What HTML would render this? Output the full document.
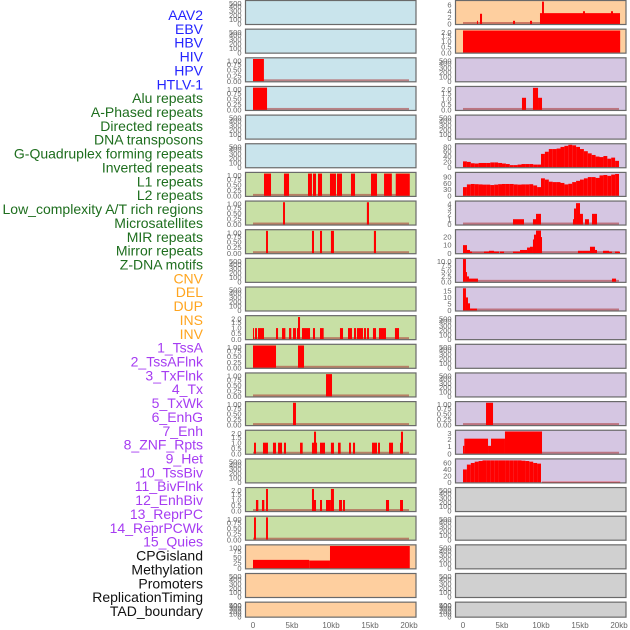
<!DOCTYPE html>
<html><head><meta charset="utf-8"><style>
html,body{margin:0;padding:0;background:#fff;}
svg{display:block;font-family:"Liberation Sans",sans-serif;}
</style></head><body>
<svg id="chart" width="630" height="630" viewBox="0 0 630 630" xmlns="http://www.w3.org/2000/svg"></svg>
<script>
// ---- labels ----
const trackNames = ["AAV2","EBV","HBV","HIV","HPV","HTLV-1","Alu repeats","A-Phased repeats","Directed repeats","DNA transposons","G-Quadruplex forming repeats","Inverted repeats","L1 repeats","L2 repeats","Low_complexity A/T rich regions","Microsatellites","MIR repeats","Mirror repeats","Z-DNA motifs","CNV","DEL","DUP","INS","INV","1_TssA","2_TssAFlnk","3_TxFlnk","4_Tx","5_TxWk","6_EnhG","7_Enh","8_ZNF_Rpts","9_Het","10_TssBiv","11_BivFlnk","12_EnhBiv","13_ReprPC","14_ReprPCWk","15_Quies","CPGisland","Methylation","Promoters","ReplicationTiming","TAD_boundary"];
const trackGroups = ["v","v","v","v","v","v","r","r","r","r","r","r","r","r","r","r","r","r","r","s","s","s","s","s","c","c","c","c","c","c","c","c","c","c","c","c","c","c","c","k","k","k","k","k"];
const xTickValues = [0,5,10,15,20];
const xTickLabels = ["0","5kb","10kb","15kb","20kb"];

// ---- tick label sets ----
const ticksEmpty = [0,100,200,300,400,500];
const ticksUnit = [0,0.25,0.5,0.75,1];
const ticksUnitLabels = ["0.00","0.25","0.50","0.75","1.00"];
const ticksTwo = [0,0.5,1,1.5,2];
const ticksTwoLabels = ["0.0","0.5","1.0","1.5","2.0"];
const ticksCpg = [0,25,50,75,100];
const ticksIns = [0,2,4,6];
const ticks80 = [0,20,40,60,80];
const ticks90 = [0,30,60,90];
const ticks4 = [0,1,2,3,4];
const ticks20 = [0,10,20];
const ticks10 = [0,2.5,5,7.5,10];
const ticks10Labels = ["0.0","2.5","5.0","7.5","10.0"];
const ticks15 = [0,5,10,15];
const ticks3 = [0,1,2,3];
const ticks60 = [0,20,40,60];

// ---- series: [startKb, endKb, value] ----
const barsHIV = [[0,1.4,1]];
const barsHPV = [[0,1.8,1]];
const barsAlu = [[1.41,2.31,1],[3.97,4.62,1],[7.05,7.56,1],[7.69,8.08,1],[8.33,8.85,1],[9.87,10.64,1],[10.77,11.41,1],[12.56,13.08,1],[15.13,15.9,1],[16.8,17.8,1],[18.3,20.1,1]];
const barsAPhased = [[3.85,4.1,1],[14.6,14.87,1]];
const barsDirected = [[1.67,1.92,1],[7.56,7.82,1],[8.59,8.85,1],[9.99,10.38,1],[15.5,15.77,1]];
const barsGQuad = [[0,0.13,1],[0.26,0.51,1],[0.64,1.41,1],[2.95,3.21,1],[3.72,4.15,1],[4.62,4.91,1],[5.13,5.51,1],[5.64,5.77,1],[5.77,6.03,2],[6.28,7.31,1],[7.69,7.95,1],[8.59,9.06,1],[11.15,11.54,1],[12.18,12.69,1],[12.95,13.21,1],[13.33,14.1,1],[14.23,14.49,1],[14.62,14.87,1],[15.38,15.77,1],[16.15,17.05,1],[18.2,18.72,1]];
const barsInverted = [[0,2.95,1],[5.77,6.54,1]];
const barsL1 = [[9.36,10.13,1]];
const barsL2 = [[5.13,5.51,1]];
const barsLowComplex = [[0.13,0.38,1],[1.28,1.92,1],[2.56,2.95,1],[3.21,3.72,1],[3.97,4.23,1],[6.03,6.37,1],[7.56,7.82,1],[7.82,8.08,2],[8.08,8.21,1],[8.59,9.23,1],[9.99,10.38,1],[10.9,11.24,1],[12.31,12.56,1],[12.82,13.08,1],[15.26,15.9,1],[16.03,16.28,1],[17.44,17.95,1],[18.85,18.97,1],[18.97,19.23,2]];
const barsMir = [[0.38,0.68,1],[1.15,1.45,1],[1.67,1.92,2],[7.56,7.82,2],[7.82,8.08,1],[8.59,8.85,1],[9.36,9.99,1],[9.99,10.38,2],[11.03,11.41,1],[11.54,11.79,1],[17.05,17.44,1],[18.85,19.23,1]];
const barsMirror = [[0.13,0.38,1],[1.67,1.92,1]];
const barsCnv = [[0,7.2,38],[7.2,9.87,35],[9.87,20.1,100]];
const barsIns = [[1.79,1.92,1],[2.18,2.44,3.2],[6.41,6.67,1],[8.59,8.85,1],[9.87,20.13,3.4],[10.13,10.38,7],[15.38,15.64,4],[18.97,19.23,4]];
const barsInv = [[0,20.15,2]];
const barsTssAFlnk = [[7.56,8.08,1.1],[8.97,9.62,2],[9.62,10.13,1.1]];
const areaTx = [22,20,15,14,16,16,16,18,18,16,14,12,8,8,10,12,12,12,10,10,50,58,68,68,70,76,80,84,82,76,68,60,52,46,40,38,42,32,36,24];
const areaTxWk = [42,55,57,56,55,54,54,52,54,56,57,57,57,55,54,55,55,56,50,42,84,78,68,66,66,62,55,58,66,72,78,84,90,90,86,98,100,96,102,105];
const barsEnhG = [[6.41,7.82,1],[8.97,9.36,1],[9.36,10.0,2],[14.1,14.36,1],[14.23,14.49,3],[14.49,15.0,4],[15.0,15.38,2],[15.64,16.15,1],[16.54,17.18,2]];
const barsEnh = [[0,0.51,10],[0.51,0.9,4],[0.9,1.15,2],[1.15,2.69,0.6],[2.69,3.46,2],[3.33,3.97,3],[3.97,4.62,2],[4.74,5.26,2],[6.41,7.31,2],[7.31,8.21,4],[8.21,8.59,7],[8.59,8.97,8],[8.97,9.23,17],[9.1,9.36,23],[9.36,10.0,28],[10.0,10.13,20],[14.74,15.38,3],[15.38,16.28,3],[16.28,16.92,8],[16.92,17.18,4],[17.95,18.72,3],[18.72,19.1,2],[19.49,20.13,2]];
const barsZnf = [[0,0.38,10.5],[0.38,0.51,4.5],[0.51,0.77,2.5],[0.77,1.92,1.5],[19.1,19.62,1.5]];
const barsHet = [[0,0.38,17],[0.38,0.64,10],[0.64,0.9,5.5],[0.9,1.79,1.5]];
const barsReprPC = [[2.95,3.85,1]];
const barsReprPCWk = [[0,0.17,1.1],[0.17,3.21,2.1],[3.21,3.59,1.1],[3.59,5.38,2.1],[5.38,10.13,3.1]];
const areaQuies = [40,55,60,64,66,68,68,68,68,68,68,68,68,68,68,67,66,64,60,58];
const barsQuiesTail = [[10.13,20.15,2]];
const binWidthKb = 0.5;

// ---- layout ----
const BG = {blue:"#c9e4ec",green:"#c8e0a5",peach:"#fecf9f",lav:"#d5c6e2",gray:"#d0d0d0"};
const colX = [245.5,455.5], panelW = 170.5, kbPx = 7.8, x0Off = 7.5;
const svg = document.getElementById("chart");
const NS = "http://www.w3.org/2000/svg";
function mk(tag, attrs, parent){const e=document.createElementNS(NS,tag);for(const k in attrs)e.setAttribute(k,attrs[k]);(parent||svg).appendChild(e);return e;}
function bins(arr){return arr.map((v,i)=>[i*binWidthKb,(i+1)*binWidthKb,v]);}

const E = {ticks:ticksEmpty, max:520};
const panels = [
 // left column
 {bg:"blue",...E},{bg:"blue",...E},
 {bg:"blue",ticks:ticksUnit,labels:ticksUnitLabels,max:1.03,data:barsHIV},
 {bg:"blue",ticks:ticksUnit,labels:ticksUnitLabels,max:1.03,data:barsHPV},
 {bg:"blue",...E},{bg:"blue",...E},
 {bg:"green",ticks:ticksUnit,labels:ticksUnitLabels,max:1.03,data:barsAlu},
 {bg:"green",ticks:ticksUnit,labels:ticksUnitLabels,max:1.03,data:barsAPhased},
 {bg:"green",ticks:ticksUnit,labels:ticksUnitLabels,max:1.03,data:barsDirected},
 {bg:"green",...E},{bg:"green",...E},
 {bg:"green",ticks:ticksTwo,labels:ticksTwoLabels,max:2.08,data:barsGQuad},
 {bg:"green",ticks:ticksUnit,labels:ticksUnitLabels,max:1.03,data:barsInverted},
 {bg:"green",ticks:ticksUnit,labels:ticksUnitLabels,max:1.03,data:barsL1},
 {bg:"green",ticks:ticksUnit,labels:ticksUnitLabels,max:1.03,data:barsL2},
 {bg:"green",ticks:ticksTwo,labels:ticksTwoLabels,max:2.08,data:barsLowComplex},
 {bg:"green",...E},
 {bg:"green",ticks:ticksTwo,labels:ticksTwoLabels,max:2.08,data:barsMir},
 {bg:"green",ticks:ticksUnit,labels:ticksUnitLabels,max:1.03,data:barsMirror},
 {bg:"peach",ticks:ticksCpg,max:103,data:barsCnv,noBase:true},
 {bg:"peach",...E},{bg:"peach",...E},
 // right column
 {bg:"peach",ticks:ticksIns,max:7.2,data:barsIns},
 {bg:"peach",ticks:ticksTwo,labels:ticksTwoLabels,max:2.08,data:barsInv,noBase:true},
 {bg:"lav",...E},
 {bg:"lav",ticks:ticksTwo,labels:ticksTwoLabels,max:2.08,data:barsTssAFlnk},
 {bg:"lav",...E},
 {bg:"lav",ticks:ticks80,max:86,data:bins(areaTx),noBase:true},
 {bg:"lav",ticks:ticks90,max:110,data:bins(areaTxWk),noBase:true},
 {bg:"lav",ticks:ticks4,max:4.3,data:barsEnhG},
 {bg:"lav",ticks:ticks20,max:28.5,data:barsEnh},
 {bg:"lav",ticks:ticks10,labels:ticks10Labels,max:10.6,data:barsZnf},
 {bg:"lav",ticks:ticks15,max:17.6,data:barsHet},
 {bg:"lav",...E},{bg:"lav",...E},{bg:"lav",...E},
 {bg:"lav",ticks:ticksUnit,labels:ticksUnitLabels,max:1.03,data:barsReprPC},
 {bg:"lav",ticks:ticks3,max:3.2,data:barsReprPCWk},
 {bg:"lav",ticks:ticks60,max:71,data:bins(areaQuies).concat(barsQuiesTail),noBase:true},
 {bg:"gray",...E},{bg:"gray",...E},{bg:"gray",...E},{bg:"gray",...E},{bg:"gray",...E}
];

// track name labels
const groupColor = {v:"#2424ff",r:"#1e6e1e",s:"#ffa51f",c:"#a63cf2",k:"#111"};
trackNames.forEach((n,i)=>{
  const t = mk("text",{x:203,y:15+i*13.86+5,"text-anchor":"end","font-size":"14",fill:groupColor[trackGroups[i]]});
  t.textContent = n;
  
  
});

panels.forEach((p,idx)=>{
  const col = idx<22?0:1, row = idx%22;
  const top = 0.5 + row*28.65, h = row===21?15:24, bottom = top+h;
  const left = colX[col];
  const xs = kb => left + x0Off + kb*kbPx;
  const ys = v => bottom - 0.5 - (v/p.max)*(h-1);
  const g = mk("g",{});
  
  
  const bg = mk("rect",{x:left,y:top,width:panelW,height:h,fill:BG[p.bg]},g);
  
  
  if(p.data){
    if(!p.noBase){
      const b = mk("rect",{x:xs(0),y:bottom-2.5,width:xs(20)-xs(0),height:2,fill:"rgba(170,50,50,0.55)"},g);
      
      
    }
    p.data.forEach(d=>{
      const r = mk("rect",{x:xs(d[0]),y:ys(d[2]),width:Math.max(0.8,xs(d[1])-xs(d[0])),height:bottom-0.5-ys(d[2]),fill:"#ff0000"},g);
      
      
    });
  }
  const fr = mk("rect",{x:left,y:top,width:panelW,height:h,fill:"none",stroke:"#6a6a6a","stroke-width":1.2},g);
  
  
  p.ticks.forEach((tv,ti)=>{
    const lbl = p.labels?p.labels[ti]:String(tv);
    const ty = Math.min(bottom-0.5, Math.max(top+3, ys(tv)));
    const t = mk("text",{x:left-4,y:ty+2.6,"text-anchor":"end","font-size":"7.5",fill:"#666"},g);
    t.textContent = lbl;
    
    
  });
});

// x axis tick labels
[0,1].forEach(col=>{
  xTickValues.forEach((v,i)=>{
    const t = mk("text",{x:colX[col]+x0Off+v*kbPx,y:628,"text-anchor":"middle","font-size":"8",fill:"#666"});
    t.textContent = xTickLabels[i];
    
    
  });
});
</script>
</body></html>
